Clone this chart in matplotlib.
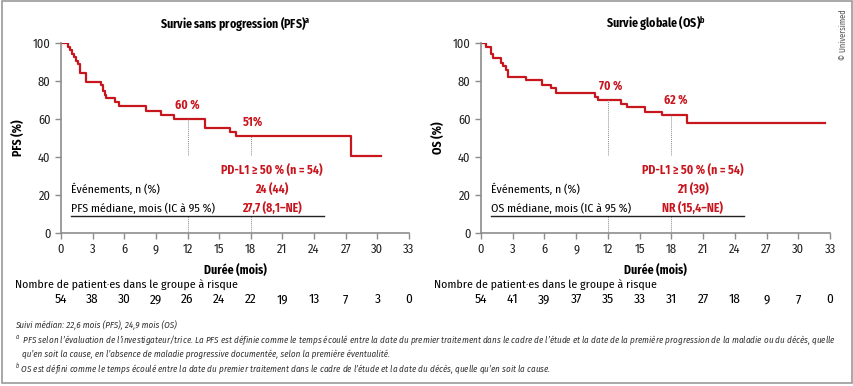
import matplotlib
matplotlib.use("Agg")
import matplotlib.pyplot as plt
from matplotlib.patches import Rectangle

FONT = 'Fira Sans Condensed'
plt.rcParams['font.family'] = [FONT, 'DejaVu Sans']
plt.rcParams['mathtext.fontset'] = 'custom'
plt.rcParams['mathtext.rm'] = FONT
plt.rcParams['mathtext.it'] = FONT + ':italic'
plt.rcParams['mathtext.bf'] = FONT + ':bold'

RED = '#c8161e'
GREY = '#8c8c8c'

# PFS curve (months, %)
pfs_t = [0, 0.63, 0.85, 1.0, 1.2, 1.4, 1.6, 1.8, 2.35, 3.8, 4.0, 4.2, 4.3, 5.1, 5.5,
         8.1, 9.5, 10.7, 13.7, 16.0, 16.6, 27.5, 30.3]
pfs_s = [100, 98.1, 96.3, 94.4, 92.6, 90.7, 88.9, 84.2, 79.8, 78.2, 75.0, 72.8, 71.0, 69.3, 66.7,
         64.5, 62.3, 60.0, 55.3, 53.2, 50.9, 40.7, 40.7]

# OS curve (months, %)
os_t = [0, 0.45, 0.95, 1.1, 1.9, 2.1, 2.4, 2.6, 4.3, 5.8, 6.6, 7.1, 10.8, 11.1,
        13.2, 13.8, 15.5, 17.1, 19.5, 32.5]
os_s = [100, 97.9, 94.5, 92.1, 89.8, 88.0, 86.0, 82.1, 80.4, 78.1, 76.3, 74.0, 71.9, 70.2,
        68.0, 66.3, 64.0, 62.3, 57.9, 57.9]

months = [0, 3, 6, 9, 12, 15, 18, 21, 24, 27, 30, 33]
pfs_risk = [54, 38, 30, 29, 26, 24, 22, 19, 13, 7, 3, 0]
os_risk = [54, 41, 39, 37, 35, 33, 31, 27, 18, 9, 7, 0]

pfs_marks = {12: '60 %', 18: '51%'}
os_marks = {12: '70 %', 18: '62 %'}
pfs_marks_val = {12: 60.0, 18: 50.9}
os_marks_val = {12: 70.2, 18: 62.3}

fig = plt.figure(figsize=(8.54, 3.86), dpi=100)
fig.patches.append(Rectangle((0.002, 0.008), 0.996, 0.99, transform=fig.transFigure,
                             fill=False, edgecolor='#9a9a9a', lw=1.2))


def km_panel(ax, t, s, risk, marks, marks_val, mark_pos, title, ylab, events, median):
    ax.step(t, s, where='post', color=RED, lw=1.6)
    for m in (12, 18):
        ax.plot([m, m], [41, marks_val[m]], color=GREY, lw=0.7, ls=(0, (1, 1)))
        ax.plot([m, m], [0, 9], color=GREY, lw=0.7, ls=(0, (1, 1)))
        ax.text(mark_pos[m][0], mark_pos[m][1], marks[m], color=RED, fontsize=8.5,
                fontweight='bold', ha='center', va='center')
    ax.set_xlim(0, 33)
    ax.set_ylim(0, 100)
    ax.set_xticks(months)
    ax.set_yticks([0, 20, 40, 60, 80, 100])
    for sp in ('top', 'right'):
        ax.spines[sp].set_visible(False)
    for sp in ('left', 'bottom'):
        ax.spines[sp].set_color(GREY)
        ax.spines[sp].set_linewidth(1.2)
    ax.tick_params(colors=GREY, labelcolor='#222222', labelsize=9, length=4, width=1)
    ax.set_ylabel(ylab, fontsize=8.5, fontweight='bold', labelpad=6)
    ax.set_title(title, fontsize=8.5, fontweight='bold', pad=11)
    ax.text(20, 33.3, 'PD-L1 \u2265 50 % (n = 54)', color=RED, fontsize=8.5,
            fontweight='bold', ha='center', va='center')
    ax.text(0.95, 23.2, '\u00c9v\u00e9nements, n (%)', fontsize=8.5, va='center')
    ax.text(20, 23.2, events, color=RED, fontsize=8.5, fontweight='bold', ha='center', va='center')
    ax.text(0.95, 13.2, median[0], fontsize=8.5, va='center')
    ax.text(20, 13.2, median[1], color=RED, fontsize=8.5, fontweight='bold', ha='center', va='center')
    ax.plot([0.95, 24.9], [9.1, 9.1], color='#222222', lw=1)
    ax.text(16.5, -0.193, 'Dur\u00e9e (mois)', transform=ax.get_xaxis_transform(),
            fontsize=8.5, fontweight='bold', ha='center', va='center')
    tr = ax.get_xaxis_transform()
    for m, n in zip(months, risk):
        ax.text(m, -0.35, str(n), transform=tr, fontsize=9.5, ha='center', va='center')


ax1 = fig.add_axes([0.0714, 0.396, 0.4075, 0.492])
km_panel(ax1, pfs_t, pfs_s, pfs_risk, pfs_marks, pfs_marks_val,
         {12: (12, 67.5), 18: (18.2, 58.2)},
         'Survie sans progression (PFS)$^{\\mathbf{a}}$', 'PFS (%)', '24 (44)',
         ('PFS m\u00e9diane, mois (IC \u00e0 95 %)', '27,7 (8,1\u2013NE)'))

ax2 = fig.add_axes([0.5632, 0.396, 0.4087, 0.492])
km_panel(ax2, os_t, os_s, os_risk, os_marks, os_marks_val,
         {12: (12.3, 77.5), 18: (18.45, 69.8)},
         'Survie globale (OS)$^{\\mathbf{b}}$', 'OS (%)', '21 (39)',
         ('OS m\u00e9diane, mois (IC \u00e0 95 %)', 'NR (15,4\u2013NE)'))

fig.text(15 / 854, 1 - 285 / 386, 'Nombre de patient\u00b7es dans le groupe \u00e0 risque',
         fontsize=8.5, va='center')
fig.text(434 / 854, 1 - 285 / 386, 'Nombre de patient\u00b7es dans le groupe \u00e0 risque',
         fontsize=8.5, va='center')

foot = dict(fontsize=6.5, style='italic', color='#333333', va='center')
fig.text(15 / 854, 1 - 325 / 386, 'Suivi m\u00e9dian: 22,6 mois (PFS), 24,9 mois (OS)', **foot)
fig.text(15 / 854, 1 - 340 / 386,
         '$^{a}$  PFS selon l\u2019\u00e9valuation de l\u2019investigateur/trice. La PFS est d\u00e9finie comme le temps '
         '\u00e9coul\u00e9 entre la date du premier traitement dans le cadre de l\u2019\u00e9tude et la date de la '
         'premi\u00e8re progression de la maladie ou du d\u00e9c\u00e8s, quelle', **foot)
fig.text(22 / 854, 1 - 354 / 386,
         'qu\u2019en soit la cause, en l\u2019absence de maladie progressive document\u00e9e, selon la '
         'premi\u00e8re \u00e9ventualit\u00e9.', **foot)
fig.text(15 / 854, 1 - 369 / 386,
         '$^{b}$ OS est d\u00e9fini comme le temps \u00e9coul\u00e9 entre la date du premier traitement dans le '
         'cadre de l\u2019\u00e9tude et la date du d\u00e9c\u00e8s, quelle qu\u2019en soit la cause.', **foot)

fig.text(843 / 854, 1 - 35 / 386, '\u00a9 Universimed', rotation=90, fontsize=6,
         color='#555555', ha='center', va='center')

fig.savefig('out.png', dpi=100)
